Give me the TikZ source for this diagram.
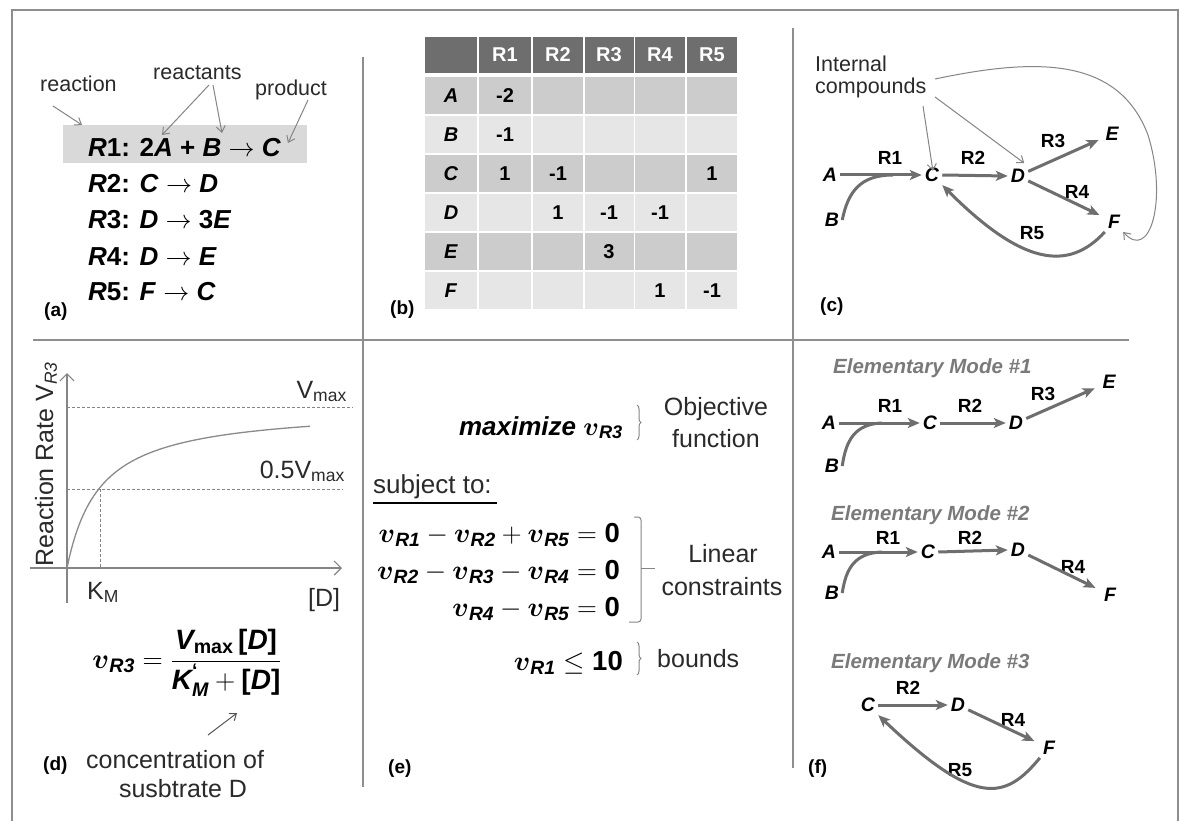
\RequirePackage{fix-cm}
\documentclass[tikz,border=0pt]{standalone}
\usepackage{amsmath}
\usepackage{fontspec}
\setmainfont{Liberation Sans}
\usetikzlibrary{arrows.meta,decorations.pathreplacing}
\definecolor{edgeg}{HTML}{6E6E6E}
\definecolor{anng}{HTML}{858585}
\definecolor{darkann}{HTML}{555555}
\definecolor{divg}{HTML}{8E8E8E}
\definecolor{hdr}{HTML}{6E6E6E}
\definecolor{rowdk}{HTML}{CCCCCC}
\definecolor{rowlt}{HTML}{E6E6E6}
\definecolor{hibox}{HTML}{D9D9D9}
\definecolor{ltxt}{HTML}{2A2A2A}
\definecolor{emg}{HTML}{7A7A7A}
\definecolor{curveg}{HTML}{8A8A8A}
\newcommand\bi[1]{\text{\bfseries\itshape #1}}
\newcommand\bt[1]{\text{\bfseries #1}}
\newcommand\vv[1]{\boldsymbol{v}_{\bi{#1}}}
\newcommand\fs[1]{\fontsize{#1}{#1}\selectfont}
\begin{document}
\begin{tikzpicture}[x=1pt,y=-1pt,
  lt/.style={font=\fs{21.5}, text=ltxt, inner sep=0pt},
  ltb/.style={font=\fs{25}, text=ltxt, inner sep=0pt},
  rx/.style={font=\fs{26}\bfseries, inner sep=0pt},
  panel/.style={font=\fs{19}\bfseries, inner sep=0pt},
  nd/.style={font=\fs{19.5}\bfseries\itshape, inner sep=3pt},
  rl/.style={font=\fs{19}\bfseries, inner sep=0pt},
  emt/.style={font=\fs{20.5}\bfseries\itshape, text=emg, inner sep=0pt},
  flux/.style={draw=edgeg, line width=3pt, -{Stealth[length=12pt,width=10pt,inset=3pt]}},
  fluxline/.style={draw=edgeg, line width=3pt},
  ann/.style={draw=anng, line width=1pt, -{Straight Barb[length=6pt,width=9pt]}},
  divider/.style={draw=divg, line width=1.5pt},
  axisln/.style={draw=anng, line width=1.2pt, -{Straight Barb[length=7pt,width=14pt]}},
  dashln/.style={draw=anng, line width=1pt, dash pattern=on 3pt off 2pt},
  brc/.style={draw=anng, line width=1pt, decorate, decoration={brace,amplitude=4pt}},
  cell/.style={rectangle, minimum height=37pt, inner sep=0pt, font=\fs{20}\bfseries},
  val/.style={font=\fs{20}\bfseries, inner sep=0pt},
  eqn/.style={font=\fs{27.5}, inner sep=0pt}
]
\useasboundingbox (0,0) rectangle (1180,821);
\fill[white] (0,0) rectangle (1180,821);
% frame and dividers
\draw[divider] (12,821) -- (12,10) -- (1178,10) -- (1178,821);
\draw[divider] (363,57) -- (363,787);
\draw[divider] (33,340) -- (1129,340);
\draw[divider] (793,28) -- (793,768);

% ---------- panel (a)
\node[fill=hibox, minimum width=244pt, minimum height=38pt, inner sep=0pt] (hb) at (185,144) {};
\node[rx, anchor=base west] (r1) at (88,157) {\textit{R}1: 2\textit{A} + \textit{B} $\rightarrow$ \textit{C}};
\node[rx, anchor=base west] (r2) at (88,193) {\textit{R}2: \textit{C} $\rightarrow$ \textit{D}};
\node[rx, anchor=base west] (r3) at (88,229) {\textit{R}3: \textit{D} $\rightarrow$ 3\textit{E}};
\node[rx, anchor=base west] (r4) at (88,265) {\textit{R}4: \textit{D} $\rightarrow$ \textit{E}};
\node[rx, anchor=base west] (r5) at (88,300) {\textit{R}5: \textit{F} $\rightarrow$ \textit{C}};
\node[lt, anchor=base west] (lreac) at (40,92) {reaction};
\node[lt, anchor=base west] (lreact) at (153,80) {reactants};
\node[lt, anchor=base west] (lprod) at (255,96) {product};
\coordinate (a1s) at (53,106); \coordinate (a1t) at (82,125);
\coordinate (a2s) at (209,85); \coordinate (a2t) at (162,135);
\coordinate (a3s) at (213,85); \coordinate (a3t) at (222,133);
\coordinate (a4s) at (308,100); \coordinate (a4t) at (288,143);
\draw[ann] (a1s) -- (a1t);
\draw[ann] (a2s) -- (a2t);
\draw[ann] (a3s) -- (a3t);
\draw[ann] (a4s) -- (a4t);
\node[panel, anchor=base west] (pa) at (44,316) {(a)};

% ---------- panel (b)
\foreach \c/\x/\w in {0/451/52,1/505/52,2/558/50,3/609/49,4/660/50,5/712/50}{
  \node[cell, fill=hdr, text=white, minimum width=\w pt, minimum height=36pt] (h\c) at (\x,55) {\ifnum\c>0 R\c\fi};
}
\foreach \lab/\y/\sh in {A/95.5/rowdk,B/134.5/rowlt,C/173.5/rowdk,D/212.5/rowlt,E/251.5/rowdk,F/290.5/rowlt}{
  \foreach \c/\x/\w in {0/451/52,1/505/52,2/558/50,3/609/49,4/660/50,5/712/50}{
    \node[cell, fill=\sh, minimum width=\w pt] (t\lab\c) at (\x,\y) {\ifnum\c=0 \textit{\lab}\fi};
  }
}
\node[val] (vA1) at (tA1) {-2};
\node[val] (vB1) at (tB1) {-1};
\node[val] (vC1) at (tC1) {1};
\node[val] (vC2) at (tC2) {-1};
\node[val] (vC5) at (tC5) {1};
\node[val] (vD2) at (tD2) {1};
\node[val] (vD3) at (tD3) {-1};
\node[val] (vD4) at (tD4) {-1};
\node[val] (vE3) at (tE3) {3};
\node[val] (vF4) at (tF4) {1};
\node[val] (vF5) at (tF5) {-1};
\node[panel, anchor=base west] (pb) at (390,314) {(b)};

% ---------- panel (c)
\node[lt, anchor=base west] (ic1t) at (815,72) {Internal};
\node[lt, anchor=base west] (ic2t) at (815,94) {compounds};
\node[nd] (cA) at (830,175) {A};
\node[nd] (cB) at (832,220) {B};
\node[nd] (cC) at (932,175) {C};
\node[nd] (cD) at (1018,176) {D};
\node[nd] (cE) at (1112,134) {E};
\node[nd] (cF) at (1114,222) {F};
\node[rl] (cR1) at (890,158) {R1};
\node[rl] (cR2) at (973,158) {R2};
\node[rl] (cR3) at (1053,141) {R3};
\node[rl] (cR4) at (1077,192) {R4};
\node[rl] (cR5) at (1032,233) {R5};
\coordinate (cJ) at (893,175);
\draw[flux] (cA.east) -- (cC.west);
\draw[fluxline] (cB.east) .. controls (848,192) and (860,175) .. (cJ);
\draw[flux] (cC.east) -- (cD.west);
\draw[flux, shorten >=4pt] (cD) -- (cE);
\draw[flux, shorten >=6pt] (cD) -- (cF);
\draw[flux] (cF.south west) .. controls (1068,272) and (1022,265) .. (cC.south east);
\coordinate (ic1) at (923,106);
\coordinate (ic2) at (935,97);
\coordinate (ic3) at (935,79);
\draw[ann, shorten >=-6pt] (ic1) -- (cC.north);
\draw[ann, shorten >=5pt] (ic2) -- (cD.north east);
\draw[ann] (ic3) .. controls (1035,58) and (1118,56) .. (1148,135) .. controls (1168,200) and (1150,262) .. (cF.south east);
\node[panel, anchor=base west] (pc) at (820,311) {(c)};

% ---------- panel (d)
\draw[axisln] (67,603) -- (67,373);
\draw[axisln] (30,568) -- (342,568);
\draw[dashln] (67,407) -- (353,407);
\draw[dashln] (67,489) -- (343,489);
\draw[dashln] (100,489) -- (100,568);
\draw[draw=curveg, line width=1.3pt] plot[domain=67:310, samples=120] (\x,{568-161*((\x-67)/(\x-34))});
\node[ltb, anchor=base east] (vmax) at (347,398) {V\textsubscript{max}};
\node[ltb, anchor=base east] (vhalf) at (345,478) {0.5V\textsubscript{max}};
\node[ltb, anchor=base west, rotate=90] (ylab) at (53,567) {Reaction Rate V\textsubscript{\textit{R3}}};
\node[ltb, anchor=base west] (km) at (87,599) {K\textsubscript{M}};
\node[ltb, anchor=base west] (dd) at (308,606) {[D]};
\node[font=\fs{28}, anchor=base, inner sep=0pt] (dform) at (187,668) {$\vv{R3}=\dfrac{\bi{V}_{\bt{max}}\,\bt{[\textit{D}]}}{\bi{K}^{\bt{‘}}_{\bi{M}}+\bt{[\textit{D}]}}$};
\coordinate (dar1) at (208,735); \coordinate (dar2) at (237,713);
\draw[ann, draw=darkann] (dar1) -- (dar2);
\node[panel, anchor=base west] (pd) at (43,770) {(d)};
\node[ltb, anchor=base west] (conc1) at (86,768) {concentration of};
\node[ltb, anchor=base] (conc2) at (183,797) {susbtrate D};

% ---------- panel (e)
\node[font=\fs{26}, anchor=base east, inner sep=0pt] (maxi) at (623,435) {\textbf{\textit{maximize}} $\vv{R3}$};
\draw[brc] (637,405) -- (637,440);
\node[ltb, anchor=base] (obj1) at (716,415) {Objective};
\node[ltb, anchor=base] (obj2) at (716,447) {function};
\node[ltb, font=\fs{26}, anchor=base west] (subj) at (373,493) {subject to:};
\coordinate (ul1) at (373,503); \coordinate (ul2) at (497,503);
\draw[line width=2pt] (ul1) -- (ul2);
\node[eqn, anchor=base east] (eq1) at (620,542) {$\vv{R1}-\vv{R2}+\vv{R5}=\bt{0}$};
\node[eqn, anchor=base east] (eq2) at (620,579) {$\vv{R2}-\vv{R3}-\vv{R4}=\bt{0}$};
\node[eqn, anchor=base east] (eq3) at (620,616) {$\vv{R4}-\vv{R5}=\bt{0}$};
\draw[draw=anng, line width=1pt, rounded corners=3pt] (634,517) -- (641,517) -- (641,622) -- (629,622);
\draw[draw=anng, line width=1pt] (641,568) -- (655,568);
\node[ltb, anchor=base] (lin1) at (723,562) {Linear};
\node[ltb, anchor=base] (lin2) at (722,595) {constraints};
\node[eqn, anchor=base east] (bnd) at (623,670) {$\vv{R1}\leq\bt{10}$};
\draw[brc] (637,642) -- (637,675);
\node[ltb, anchor=base west] (bounds) at (657,667) {bounds};
\node[panel, anchor=base west] (pe) at (388,773) {(e)};

% ---------- panel (f)
\node[emt, anchor=base west] (em1) at (833,373) {Elementary Mode \#1};
\node[nd] (m1A) at (829,423) {A};
\node[nd] (m1B) at (832,466) {B};
\node[nd] (m1C) at (930,423) {C};
\node[nd] (m1D) at (1016,423) {D};
\node[nd] (m1E) at (1109,382) {E};
\node[rl] (m1R1) at (890,406) {R1};
\node[rl] (m1R2) at (970,406) {R2};
\node[rl] (m1R3) at (1043,394) {R3};
\coordinate (m1J) at (882,423);
\draw[flux] (m1A.east) -- (m1C.west);
\draw[fluxline] (m1B.east) .. controls (846,440) and (855,424) .. (m1J);
\draw[flux] (m1C.east) -- (m1D.west);
\draw[flux, shorten >=5pt] (m1D) -- (m1E);

\node[emt, anchor=base west] (em2) at (831,520) {Elementary Mode \#2};
\node[nd] (m2A) at (829,552) {A};
\node[nd] (m2B) at (832,593) {B};
\node[nd] (m2C) at (928,552) {C};
\node[nd] (m2D) at (1018,550) {D};
\node[nd] (m2F) at (1110,595) {F};
\node[rl] (m2R1) at (888,538) {R1};
\node[rl] (m2R2) at (970,538) {R2};
\node[rl] (m2R4) at (1073,567) {R4};
\coordinate (m2J) at (882,552);
\draw[flux] (m2A.east) -- (m2C.west);
\draw[fluxline] (m2B.east) .. controls (846,568) and (855,553) .. (m2J);
\draw[flux] (m2C.east) -- (m2D.west);
\draw[flux, shorten >=6pt] (m2D) -- (m2F);

\node[emt, anchor=base west] (em3) at (831,668) {Elementary Mode \#3};
\node[nd] (m3C) at (868,705) {C};
\node[nd] (m3D) at (958,705) {D};
\node[nd] (m3F) at (1049,748) {F};
\node[rl] (m3R2) at (908,688) {R2};
\node[rl] (m3R4) at (1013,720) {R4};
\node[rl] (m3R5) at (960,770) {R5};
\draw[flux] (m3C.east) -- (m3D.west);
\draw[flux, shorten >=6pt] (m3D) -- (m3F);
\draw[flux] (m3F.south west) .. controls (1005,800) and (976,808) .. (m3C.south east);
\node[panel, anchor=base west] (pf) at (808,773) {(f)};
\end{tikzpicture}
\end{document}
